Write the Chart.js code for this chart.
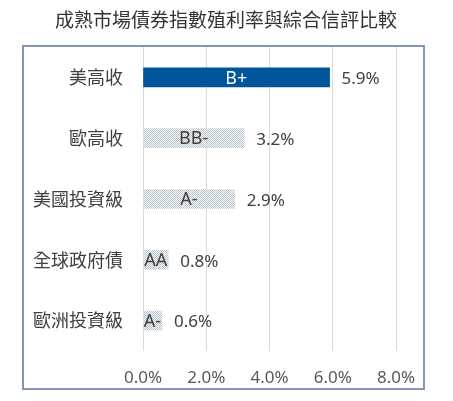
<!DOCTYPE html>
<html>
<head>
<meta charset="utf-8">
<script src="https://cdn.jsdelivr.net/npm/chart.js@4/dist/chart.umd.min.js"></script>
<style>
  html, body { margin: 0; padding: 0; background: #fff; }
  #wrap { width: 453px; height: 401px; position: relative; }
</style>
</head>
<body>
<div id="wrap"><canvas id="chart"></canvas></div>
<script>
// --- DATA ---
const titleText = '成熟市場債券指數殖利率與綜合信評比較';
const categories = ['美高收', '歐高收', '美國投資級', '全球政府債', '歐洲投資級'];
const yields = [5.9, 3.2, 2.9, 0.8, 0.6];
const ratings = ['B+', 'BB-', 'A-', 'AA', 'A-'];
const xTicks = [0, 2, 4, 6, 8];

const latinFont = "'Noto Sans', 'Noto Sans CJK TC', sans-serif";
const cjkFont = "'Noto Sans CJK TC', 'Noto Sans', sans-serif";

// dotted fill used for every bar except the first one
function makeDots() {
    const c = document.createElement('canvas');
    c.width = 2; c.height = 2;
    const g = c.getContext('2d');
    g.fillStyle = '#ffffff';
    g.fillRect(0, 0, 2, 2);
    g.fillStyle = '#b3c0cc';
    g.fillRect(0, 0, 1, 1);
    g.fillRect(1, 1, 1, 1);
    return g.createPattern(c, 'repeat');
}

const ctx = document.getElementById('chart').getContext('2d');
const dots = makeDots();
const barColors = yields.map((v, i) => i === 0 ? '#00559b' : dots);

// frame + title
const framePlugin = {
    id: 'frame',
    beforeDraw(chart) {
        const c = chart.ctx;
        c.save();
        c.fillStyle = '#fff';
        c.fillRect(0, 0, chart.width, chart.height);
        c.strokeStyle = '#8495b5';
        c.lineWidth = 2;
        c.strokeRect(23, 46, 401, 343);
        c.fillStyle = '#333333';
        c.font = '19px ' + cjkFont;
        c.textAlign = 'center';
        c.textBaseline = 'middle';
        c.fillText(titleText, 226, 20);
        c.restore();
    }
};

// rating inside bar, yield after bar end
const barLabels = {
    id: 'barLabels',
    afterDatasetsDraw(chart) {
        const c = chart.ctx;
        const meta = chart.getDatasetMeta(0);
        const x0 = chart.scales.x.getPixelForValue(0);
        c.save();
        c.textBaseline = 'middle';
        meta.data.forEach((bar, i) => {
            c.font = '18px ' + latinFont;
            c.fillStyle = i === 0 ? '#ffffff' : '#404040';
            c.textAlign = 'center';
            c.fillText(ratings[i], (x0 + bar.x) / 2, bar.y + 1);
            c.font = '17px ' + latinFont;
            c.fillStyle = '#404040';
            c.textAlign = 'left';
            c.fillText(yields[i].toFixed(1) + '%', bar.x + 12, bar.y + 2);
        });
        c.restore();
    }
};

new Chart(ctx, {
    type: 'bar',
    data: {
        labels: categories,
        datasets: [{
            data: yields,
            backgroundColor: barColors,
            borderWidth: 0,
            barThickness: 19
        }]
    },
    options: {
        indexAxis: 'y',
        responsive: true,
        maintainAspectRatio: false,
        animation: false,
        layout: { padding: { left: 23, right: 57, top: 47, bottom: 12 } },
        plugins: {
            legend: { display: false },
            tooltip: { enabled: false }
        },
        scales: {
            x: {
                min: 0,
                max: 8,
                afterBuildTicks: (s) => { s.ticks = xTicks.map(v => ({ value: v })); },
                afterFit: (s) => { s.height = 38; },
                grid: { color: '#d9d9d9', lineWidth: 1, drawTicks: false },
                border: { display: false },
                ticks: {
                    padding: 17,
                    color: '#595959',
                    font: { family: latinFont, size: 17 },
                    callback: (v) => Number(v).toFixed(1) + '%'
                }
            },
            y: {
                afterFit: (s) => { s.width = 120; },
                grid: { display: false },
                border: { display: false },
                ticks: {
                    padding: 12,
                    color: '#404040',
                    font: { family: cjkFont, size: 18 }
                }
            }
        }
    },
    plugins: [framePlugin, barLabels]
});
</script>
</body>
</html>
